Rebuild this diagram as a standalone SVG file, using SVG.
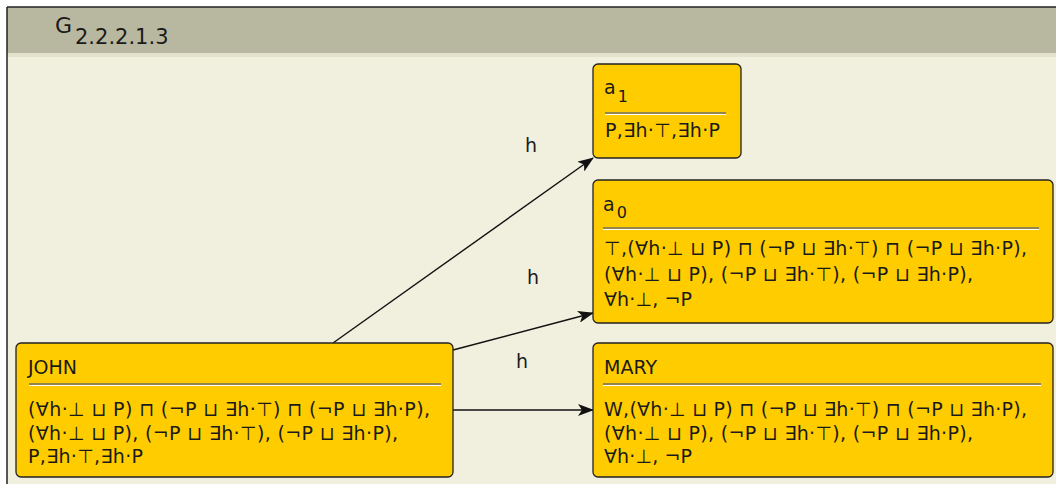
<svg xmlns="http://www.w3.org/2000/svg" width="1056" height="484" viewBox="0 0 1056 484">
<defs>
<style>
text{font-family:"DejaVu Sans","Liberation Sans",sans-serif;fill:#1a1a1a;}
.t{font-size:19px;}
.s{font-size:16px;}
.b{font-size:19px;}
.lbl{font-size:19px;}
.node{fill:#ffcc00;stroke:#222;stroke-width:1.3;}
.sep1{stroke:#6f6f60;stroke-width:1.3;}
.sep2{stroke:#ffffff;stroke-width:1.2;}
.edge{stroke:#111;stroke-width:1.4;fill:none;marker-end:url(#arr);}
</style>
<marker id="arr" viewBox="0 0 16 12" refX="15" refY="6" markerWidth="16" markerHeight="12" markerUnits="userSpaceOnUse" orient="auto">
<path d="M0,0 L16,6 L0,12 L4,6 Z" fill="#111"/>
</marker>
</defs>
<rect x="0" y="0" width="1056" height="484" fill="#ffffff"/>
<rect x="7" y="7" width="1049" height="477" fill="#f1efdd"/>
<rect x="7" y="7" width="1049" height="46" fill="#b8b8a0"/>
<rect x="7" y="53" width="1049" height="4" fill="#e4e2cc"/>
<line x1="7" y1="7" x2="1056" y2="7" stroke="#222" stroke-width="1.5"/>
<line x1="7" y1="7" x2="7" y2="484" stroke="#222" stroke-width="1.5"/>
<text x="55" y="33" style="font-size:22px">G<tspan x="75" y="44" style="font-size:21px">2.2.2.1.3</tspan></text>

<g id="edges">
<line class="edge" x1="333" y1="343" x2="593" y2="158"/>
<line class="edge" x1="453" y1="350" x2="593" y2="313"/>
<line class="edge" x1="453" y1="410" x2="593" y2="410"/>
<text class="lbl" x="525" y="152">h</text>
<text class="lbl" x="527" y="284">h</text>
<text class="lbl" x="516" y="368">h</text>
</g>

<g id="a1">
<rect class="node" x="593" y="64" width="148" height="94" rx="5"/>
<text class="t" x="604" y="94">a<tspan class="s" dx="2" dy="8">1</tspan></text>
<line class="sep1" x1="605" y1="113" x2="726" y2="113"/>
<line class="sep2" x1="605" y1="114.5" x2="726" y2="114.5"/>
<text class="b" x="605" y="137" textLength="115" lengthAdjust="spacing">P,∃h·⊤,∃h·P</text>
</g>

<g id="a0">
<rect class="node" x="593" y="180" width="460" height="143" rx="5"/>
<text class="t" x="603" y="211">a<tspan class="s" dx="2" dy="7">0</tspan></text>
<line class="sep1" x1="603" y1="228" x2="1039" y2="228"/>
<line class="sep2" x1="603" y1="229.5" x2="1039" y2="229.5"/>
<text class="b" x="604" y="255" textLength="423" lengthAdjust="spacing">⊤,(∀h·⊥ ⊔ P) ⊓ (¬P ⊔ ∃h·⊤) ⊓ (¬P ⊔ ∃h·P),</text>
<text class="b" x="604" y="281" textLength="369" lengthAdjust="spacing">(∀h·⊥ ⊔ P), (¬P ⊔ ∃h·⊤), (¬P ⊔ ∃h·P),</text>
<text class="b" x="604" y="306" textLength="88" lengthAdjust="spacing">∀h·⊥, ¬P</text>
</g>

<g id="JOHN">
<rect class="node" x="16" y="343" width="437" height="134" rx="5"/>
<text class="t" x="28" y="374">JOHN</text>
<line class="sep1" x1="29" y1="384" x2="441" y2="384"/>
<line class="sep2" x1="29" y1="385.5" x2="441" y2="385.5"/>
<text class="b" x="28" y="416" textLength="402" lengthAdjust="spacing">(∀h·⊥ ⊔ P) ⊓ (¬P ⊔ ∃h·⊤) ⊓ (¬P ⊔ ∃h·P),</text>
<text class="b" x="28" y="440" textLength="370" lengthAdjust="spacing">(∀h·⊥ ⊔ P), (¬P ⊔ ∃h·⊤), (¬P ⊔ ∃h·P),</text>
<text class="b" x="28" y="463" textLength="115" lengthAdjust="spacing">P,∃h·⊤,∃h·P</text>
</g>

<g id="MARY">
<rect class="node" x="593" y="343" width="460" height="134" rx="5"/>
<text class="t" x="604" y="374">MARY</text>
<line class="sep1" x1="603" y1="384" x2="1041" y2="384"/>
<line class="sep2" x1="603" y1="385.5" x2="1041" y2="385.5"/>
<text class="b" x="604" y="416" textLength="423" lengthAdjust="spacing">W,(∀h·⊥ ⊔ P) ⊓ (¬P ⊔ ∃h·⊤) ⊓ (¬P ⊔ ∃h·P),</text>
<text class="b" x="604" y="440" textLength="369" lengthAdjust="spacing">(∀h·⊥ ⊔ P), (¬P ⊔ ∃h·⊤), (¬P ⊔ ∃h·P),</text>
<text class="b" x="604" y="463" textLength="88" lengthAdjust="spacing">∀h·⊥, ¬P</text>
</g>
</svg>
